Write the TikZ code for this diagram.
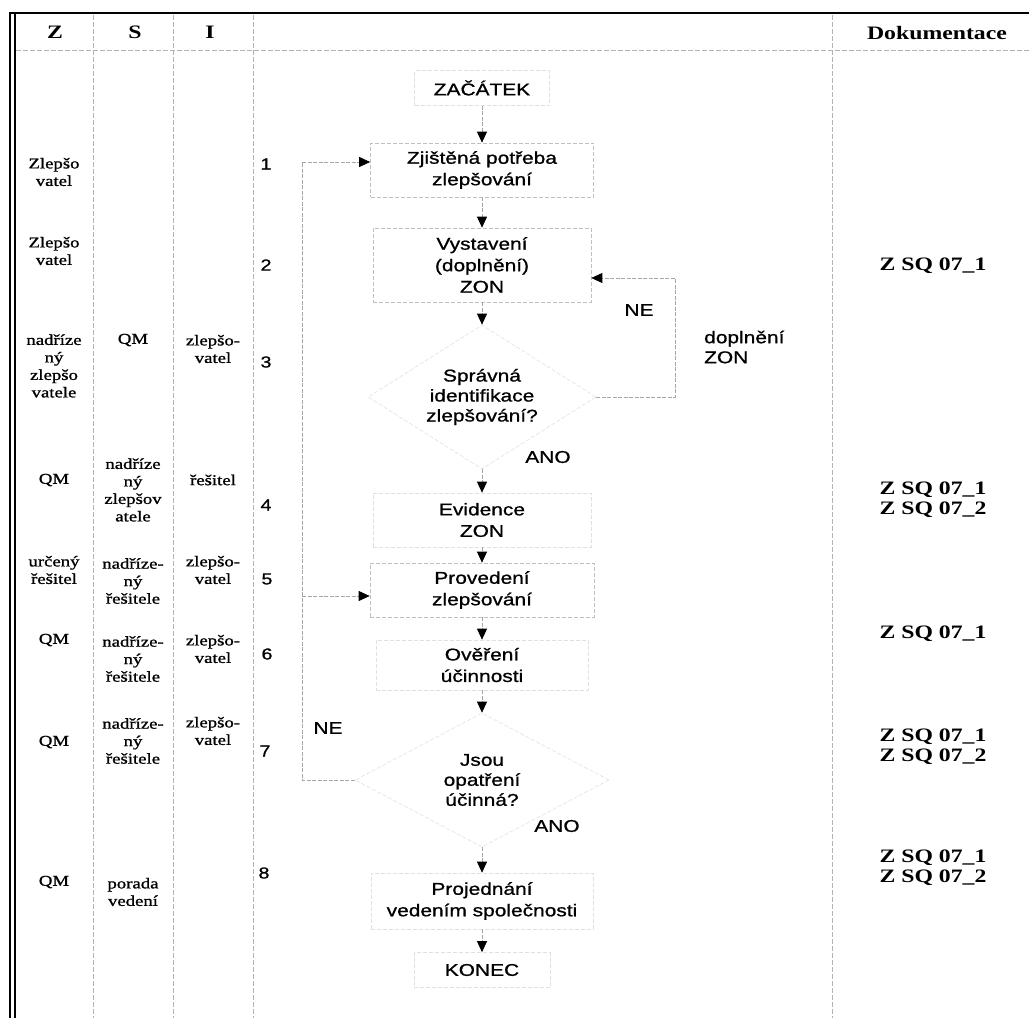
\documentclass[tikz,border=0pt]{standalone}
\usepackage{fontspec}
\setmainfont[FakeStretch=1.25]{Liberation Serif}
\newfontfamily\cellfont[FakeStretch=1.25,FakeBold=1.1]{Liberation Serif}
\newfontfamily\arialfont[FakeStretch=1.23,FakeBold=0.9]{Liberation Sans}
\usetikzlibrary{arrows.meta,shapes.geometric}
\begin{document}
\begin{tikzpicture}[x=1pt,y=-1pt,
  cell/.style={font=\cellfont\fontsize{15}{17.5}\selectfont, align=center, inner sep=0pt},
  hdr/.style={font=\fontsize{19}{22}\selectfont\bfseries, inner sep=0pt},
  doc/.style={font=\fontsize{19}{20}\selectfont\bfseries, align=center, inner sep=0pt},
  num/.style={font=\arialfont\fontsize{16}{18}\selectfont, inner sep=0pt},
  lbl/.style={font=\arialfont\fontsize{17}{20}\selectfont, inner sep=0pt},
  fbox/.style={draw=black!25, dash pattern=on 4pt off 2pt, line width=0.7pt,
    font=\arialfont\fontsize{17}{21.5}\selectfont, align=center, inner sep=0pt},
  faintbox/.style={fbox, draw=black!12},
  diam/.style={fbox, draw=black!10, shape=diamond, font=\arialfont\fontsize{17}{20}\selectfont},
  conn/.style={draw=black!35, line width=0.8pt, dash pattern=on 4pt off 1.5pt},
  arr/.style={conn, -{Triangle[length=11pt,width=10pt,color=black]}},
  sep/.style={draw=black!30, line width=0.7pt, dash pattern=on 5pt off 2pt},
  frame/.style={draw=black}
]
\useasboundingbox (0,0) rectangle (1029,1018);
\fill[white] (0,0) rectangle (1029,1018);

% frame
\draw[frame, line width=2.6pt] (9,13) -- (1029,13);
\draw[frame, line width=2pt] (10,13) -- (10,1018);
\draw[frame, line width=1.2pt] (15,13) -- (15,1018);

% column separators and header rule
\draw[sep] (93,15) -- (93,1018);
\draw[sep] (173,15) -- (173,1018);
\draw[sep] (253,15) -- (253,1018);
\draw[sep] (832,15) -- (832,1018);
\draw[sep] (16,50) -- (1029,50);

% headers
\node[hdr] (hz) at (55,32) {Z};
\node[hdr] (hs) at (135,32) {S};
\node[hdr] (hi) at (210,32) {I};
\node[hdr] (hd) at (937,33) {Dokumentace};

% left columns
\node[cell] (z1) at (54,172) {Zlepšo\\vatel};
\node[cell] (z2) at (54,251) {Zlepšo\\vatel};
\node[cell] (z3) at (54,366) {nadříze\\ný\\zlepšo\\vatele};
\node[cell] (s3) at (133,340) {QM};
\node[cell] (i3) at (213,349) {zlepšo-\\vatel};
\node[cell] (z4) at (54,480) {QM};
\node[cell] (s4) at (133,490) {nadříze\\ný\\zlepšov\\atele};
\node[cell] (i4) at (213,480) {řešitel};
\node[cell] (z5) at (54,570) {určený\\řešitel};
\node[cell] (s5) at (133,581) {nadříze-\\ný\\řešitele};
\node[cell] (i5) at (213,570) {zlepšo-\\vatel};
\node[cell] (z6) at (54,640) {QM};
\node[cell] (s6) at (133,659) {nadříze-\\ný\\řešitele};
\node[cell] (i6) at (213,649) {zlepšo-\\vatel};
\node[cell] (z7) at (54,742) {QM};
\node[cell] (s7) at (133,741) {nadříze-\\ný\\řešitele};
\node[cell] (i7) at (213,731) {zlepšo-\\vatel};
\node[cell] (z8) at (54,882) {QM};
\node[cell] (s8) at (133,892) {porada\\vedení};

% step numbers
\node[num] (n1) at (266,164) {1};
\node[num] (n2) at (266,265) {2};
\node[num] (n3) at (266,362) {3};
\node[num] (n4) at (266,505) {4};
\node[num] (n5) at (267,579) {5};
\node[num] (n6) at (267,654) {6};
\node[num] (n7) at (265,751) {7};
\node[num] (n8) at (264,873) {8};

% documentation
\node[doc] (doc2) at (933,266) {Z SQ 07\_1};
\node[doc] (doc4) at (933,500) {Z SQ 07\_1\\Z SQ 07\_2};
\node[doc] (doc6) at (933,634) {Z SQ 07\_1};
\node[doc] (doc7) at (933,747) {Z SQ 07\_1\\Z SQ 07\_2};
\node[doc] (doc8) at (933,868) {Z SQ 07\_1\\Z SQ 07\_2};

% flow
\node[faintbox, minimum width=135pt, minimum height=35pt] (start) at (482,88) {ZAČÁTEK};
\node[fbox, minimum width=223pt, minimum height=54pt] (b1) at (482,170) {Zjištěná potřeba\\zlepšování};
\node[fbox, minimum width=218pt, minimum height=74pt] (b2) at (482,265) {Vystavení\\(doplnění)\\ZON};
\node[diam, minimum width=228pt, minimum height=144pt, aspect=1.58] (d1) at (482,397) {Správná\\identifikace\\zlepšování?};
\node[faintbox, minimum width=218pt, minimum height=54pt] (b4) at (482,520) {Evidence\\ZON};
\node[fbox, minimum width=224pt, minimum height=54pt] (b5) at (482,590) {Provedení\\zlepšování};
\node[faintbox, minimum width=212pt, minimum height=50pt] (b6) at (482,665) {Ověření\\účinnosti};
\node[diam, minimum width=254pt, minimum height=134pt, aspect=1.9] (d2) at (482,780) {Jsou\\opatření\\účinná?};
\node[faintbox, minimum width=222pt, minimum height=56pt] (b8) at (482,901) {Projednání\\vedením společnosti};
\node[faintbox, minimum width=136pt, minimum height=35pt] (end) at (482,970) {KONEC};

\draw[arr] (start.south) -- (b1.north);
\draw[arr] (b1.south) -- (b2.north);
\draw[arr] (b2.south) -- (d1.north);
\draw[arr] (d1.south) -- (b4.north);
\draw[arr] (b4.south) -- (b5.north);
\draw[arr] (b5.south) -- (b6.north);
\draw[arr] (b6.south) -- (d2.north);
\draw[arr] (d2.south) -- (b8.north);
\draw[arr] (b8.south) -- (end.north);

% NE loop of first decision
\coordinate (ne1) at (675,397);
\draw[arr] (d1.east) -- (ne1) |- ([yshift=-13pt]b2.east);

% NE loop of second decision
\coordinate (ne2) at (302,780);
\coordinate (j1) at (302,162);
\coordinate (j5) at (302,596);
\draw[conn] (d2.west) -- (ne2) -- (j1);
\draw[arr] (j1) -- (j1 -| b1.west);
\draw[arr] (j5) -- (j5 -| b5.west);

% branch labels
\node[lbl] (ne1l) at (639,310) {NE};
\node[lbl, align=left, anchor=west] (dopl) at (704,347) {doplnění\\ZON};
\node[lbl] (ano1) at (548,457) {ANO};
\node[lbl] (ne2l) at (328,728) {NE};
\node[lbl] (ano2) at (557,826) {ANO};
\end{tikzpicture}
\end{document}
